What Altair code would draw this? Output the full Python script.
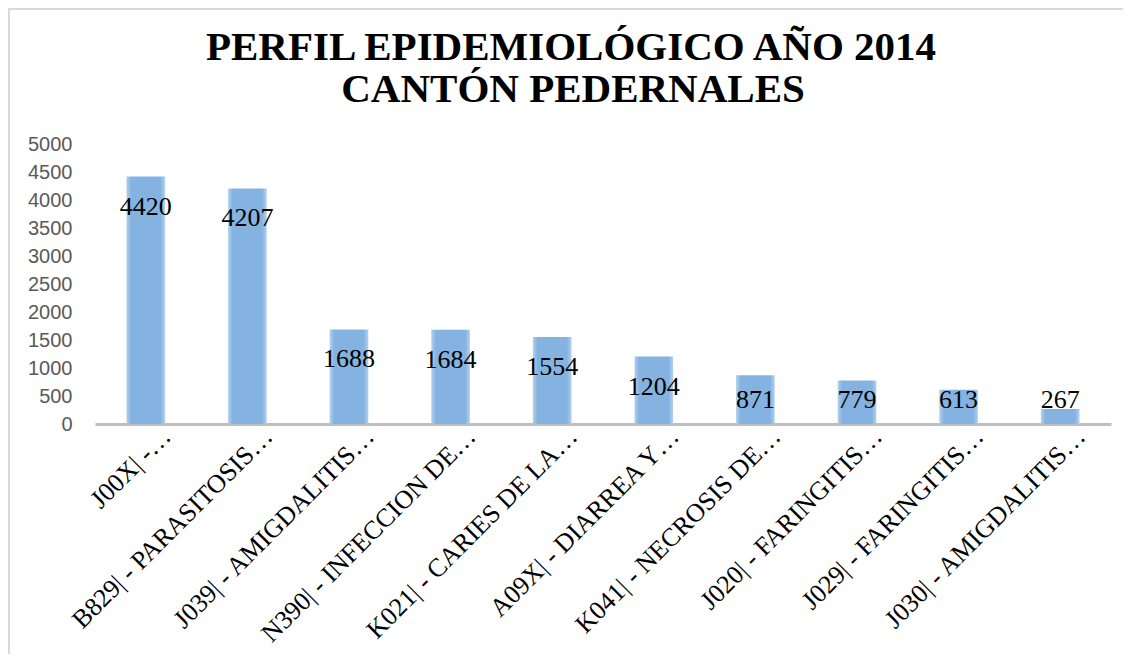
import altair as alt
import pandas as pd

categories = [
    "J00X| -…",
    "B829| - PARASITOSIS…",
    "J039| - AMIGDALITIS…",
    "N390| - INFECCION DE…",
    "K021| - CARIES DE LA…",
    "A09X| - DIARREA Y…",
    "K041| - NECROSIS DE…",
    "J020| - FARINGITIS…",
    "J029| - FARINGITIS…",
    "J030| - AMIGDALITIS…",
]
values = [4420, 4207, 1688, 1684, 1554, 1204, 871, 779, 613, 267]
y_ticks = [0, 500, 1000, 1500, 2000, 2500, 3000, 3500, 4000, 4500, 5000]
title_lines = ["PERFIL EPIDEMIOLÓGICO AÑO 2014", "CANTÓN PEDERNALES"]

df = pd.DataFrame({"cat": categories, "val": values})
one = alt.Data(values=[{"k": 1}])

W, H = 1016, 280

xaxis = alt.Axis(title=None, labelAngle=-45, labelAlign="right", labelBaseline="middle",
                 labelFont="Liberation Serif", labelFontSize=26, labelColor="#000000",
                 labelPadding=8, labelOffset=21, ticks=False, domainColor="#bfbfbf",
                 domainWidth=3, labelLimit=400, labelOverlap=False)
yaxis = alt.Axis(title=None, values=y_ticks, format="d", grid=False, domain=False,
                 ticks=False, labelOverlap=False, labelFont="Liberation Sans",
                 labelFontSize=20, labelColor="#595959", labelPadding=23)
xscale = alt.Scale(paddingInner=0.62, paddingOuter=0.31)
yscale = alt.Scale(domain=[0, 5000], nice=False)

bars = alt.Chart(df).mark_bar(
    color={"gradient": "linear", "x1": 0, "x2": 1, "y1": 0, "y2": 0,
           "stops": [{"offset": 0, "color": "#b3d0ec"}, {"offset": 0.12, "color": "#84b3e1"},
                     {"offset": 0.88, "color": "#84b3e1"}, {"offset": 1, "color": "#b3d0ec"}]}
).encode(
    x=alt.X("cat:N", sort=categories, scale=xscale, axis=xaxis),
    y=alt.Y("val:Q", scale=yscale, axis=yaxis),
)

labels = alt.Chart(df).transform_calculate(
    lab="max(datum.val - 679, 286)"
).mark_text(font="Liberation Serif", fontSize=26, color="#000000", baseline="alphabetic").encode(
    x=alt.X("cat:N", sort=categories, scale=xscale, axis=xaxis),
    y=alt.Y("lab:Q", scale=yscale, axis=yaxis),
    text=alt.Text("val:Q", format="d"),
)

title1 = alt.Chart(one).mark_text(font="Liberation Serif", fontSize=41, fontWeight="bold",
                                  color="#000000", baseline="alphabetic", align="center").encode(
    x=alt.value(476), y=alt.value(-84), text=alt.value(title_lines[0]))
title2 = alt.Chart(one).mark_text(font="Liberation Serif", fontSize=41, fontWeight="bold",
                                  color="#000000", baseline="alphabetic", align="center").encode(
    x=alt.value(478), y=alt.value(-42), text=alt.value(title_lines[1]))

border_left = alt.Chart(one).mark_rule(color="#d9d9d9", strokeWidth=2).encode(
    x=alt.value(-86), y=alt.value(-136), y2=alt.value(H + 240))
border_top = alt.Chart(one).mark_rule(color="#d9d9d9", strokeWidth=2).encode(
    x=alt.value(-87), x2=alt.value(W + 40), y=alt.value(-135))

chart = alt.layer(bars, labels, title1, title2, border_left, border_top).properties(
    width=W, height=H,
    autosize=alt.AutoSizeParams(type="none"),
    padding={"left": 87, "top": 136, "right": 12, "bottom": 230},
).configure_view(stroke=None)

chart.save("out.html", embed_options={"renderer": "svg", "actions": False})
